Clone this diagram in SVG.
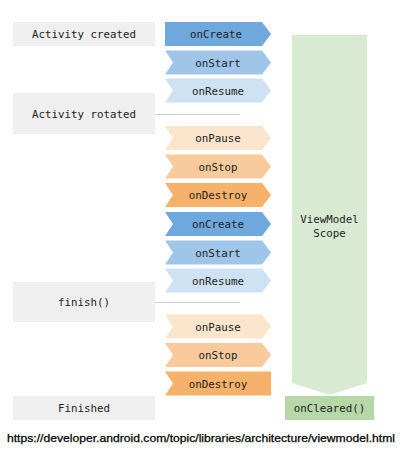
<svg xmlns="http://www.w3.org/2000/svg" width="406" height="454" viewBox="0 0 406 454">
<style>
.lbl{fill:#efefef}
.t{font-family:"DejaVu Sans Mono","Liberation Mono",monospace;font-size:10.8px;fill:#222;text-anchor:middle}
.c1{fill:#6fa8dc}.c2{fill:#9fc5e8}.c3{fill:#cfe2f3}
.p1{fill:#fce5cd}.p2{fill:#f9cb9c}.p3{fill:#f6b26b}
.ln{stroke:#d0d0d0;stroke-width:1;fill:none}
</style>
<defs>
<polygon id="chev" points="0,0 97,0 106,12 97,24 0,24 8,12"/>
</defs>
<rect width="406" height="454" fill="#fff"/>
<g id="connectors">
<line class="ln" x1="155" y1="114.5" x2="240" y2="114.5"/>
<line class="ln" x1="155" y1="302.5" x2="240" y2="302.5"/>
</g>
<g id="activity-created"><rect class="lbl" x="13" y="22" width="142" height="24"/><text class="t" x="84" y="38">Activity created</text></g>
<g id="activity-rotated"><rect class="lbl" x="13" y="93" width="142" height="41"/><text class="t" x="84" y="118">Activity rotated</text></g>
<g id="finish"><rect class="lbl" x="13" y="282" width="142" height="40"/><text class="t" x="84" y="306">finish()</text></g>
<g id="finished"><rect class="lbl" x="13" y="396" width="142" height="24"/><text class="t" x="84" y="412">Finished</text></g>

<g id="onCreate1"><polygon class="c1" points="165,22 262,22 271,34 262,46 165,46"/><text class="t" x="216" y="38">onCreate</text></g>
<g id="onStart1"><use href="#chev" class="c2" x="165" y="50.5"/><text class="t" x="218" y="66.5">onStart</text></g>
<g id="onResume1"><use href="#chev" class="c3" x="165" y="78.5"/><text class="t" x="218" y="94.5">onResume</text></g>
<g id="onPause1"><use href="#chev" class="p1" x="165" y="126"/><text class="t" x="218" y="142">onPause</text></g>
<g id="onStop1"><use href="#chev" class="p2" x="165" y="154.5"/><text class="t" x="218" y="170.5">onStop</text></g>
<g id="onDestroy1"><use href="#chev" class="p3" x="165" y="183"/><text class="t" x="218" y="199">onDestroy</text></g>
<g id="onCreate2"><use href="#chev" class="c1" x="165" y="212"/><text class="t" x="218" y="228">onCreate</text></g>
<g id="onStart2"><use href="#chev" class="c2" x="165" y="240.5"/><text class="t" x="218" y="256.5">onStart</text></g>
<g id="onResume2"><use href="#chev" class="c3" x="165" y="268.5"/><text class="t" x="218" y="284.5">onResume</text></g>
<g id="onPause2"><use href="#chev" class="p1" x="165" y="314.5"/><text class="t" x="218" y="330.5">onPause</text></g>
<g id="onStop2"><use href="#chev" class="p2" x="165" y="343"/><text class="t" x="218" y="359">onStop</text></g>
<g id="onDestroy2"><polygon class="p3" points="165,371.5 271,371.5 271,395.5 165,395.5 173,383.5"/><text class="t" x="218" y="387.5">onDestroy</text></g>

<g id="viewmodel-scope"><polygon fill="#d9ead3" points="292,35 367,35 367,383 329.5,395 292,383"/><text class="t" x="329.5" y="223">ViewModel</text><text class="t" x="329.5" y="237">Scope</text></g>
<g id="onCleared"><rect fill="#b6d7a8" x="285" y="396" width="89" height="24"/><text class="t" x="329.5" y="412">onCleared()</text></g>

<text x="201" y="442" text-anchor="middle" font-family="'Liberation Sans',Arial,sans-serif" font-size="11px" fill="#000" stroke="#000" stroke-width="0.25" textLength="388" lengthAdjust="spacingAndGlyphs">https://developer.android.com/topic/libraries/architecture/viewmodel.html</text>
</svg>
